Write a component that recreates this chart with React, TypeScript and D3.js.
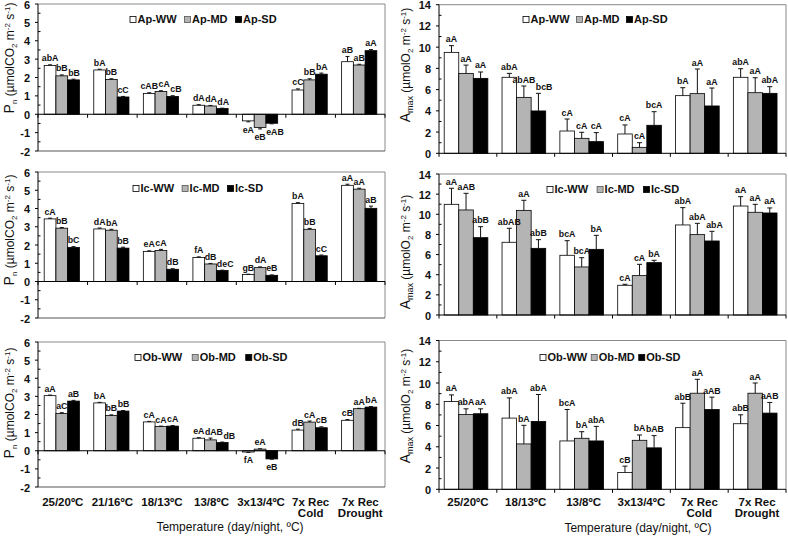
import React from 'react';
import * as d3 from 'd3';

const FONT = '"Liberation Sans", Arial, Helvetica, sans-serif';

// ---------- categories ----------
const pnCategories = ['25/20ºC', '21/16ºC', '18/13ºC', '13/8ºC', '3x13/4ºC', '7x Rec|Cold', '7x Rec|Drought'];
const amaxCategories = ['25/20ºC', '18/13ºC', '13/8ºC', '3x13/4ºC', '7x Rec|Cold', '7x Rec|Drought'];
const treatments = ['WW', 'MD', 'SD'];
const pnTicks = [-2, -1, 0, 1, 2, 3, 4, 5, 6];
const amaxTicks = [0, 2, 4, 6, 8, 10, 12, 14];

// ---------- Ap : Pn ----------
const apPnWW = [2.65, 2.41, 1.13, 0.49, -0.36, 1.32, 2.86];
const apPnMD = [2.09, 1.89, 1.24, 0.45, -0.72, 1.87, 2.68];
const apPnSD = [1.87, 0.94, 0.97, 0.31, -0.49, 2.18, 3.46];
const apPnErrWW = [0.04, 0.04, 0.04, 0.03, 0.05, 0.06, 0.28];
const apPnErrMD = [0.05, 0.04, 0.04, 0.03, 0.08, 0.06, 0.04];
const apPnErrSD = [0.04, 0.03, 0.04, 0.02, 0.03, 0.06, 0.06];
const apPnLabWW = ['abA', 'bA', 'cAB', 'dA', 'eA', 'cC', 'aB'];
const apPnLabMD = ['bB', 'bB', 'cA', 'dA', 'eB', 'bB', 'aB'];
const apPnLabSD = ['bB', 'cC', 'cB', 'dA', 'eAB', 'bA', 'aA'];

// ---------- Ap : Amax ----------
const apAmWW = [9.51, 7.16, 2.10, 1.82, 5.43, 7.16];
const apAmMD = [7.53, 5.27, 1.41, 0.56, 5.62, 5.71];
const apAmSD = [7.06, 3.99, 1.10, 2.64, 4.46, 5.65];
const apAmErrWW = [0.63, 0.37, 1.13, 0.85, 0.75, 0.81];
const apAmErrMD = [0.78, 1.07, 0.57, 0.44, 2.32, 1.41];
const apAmErrSD = [0.60, 1.66, 0.85, 1.28, 1.69, 0.63];
const apAmLabWW = ['aA', 'abA', 'cA', 'cA', 'bA', 'abA'];
const apAmLabMD = ['aA', 'abAB', 'cA', 'cA', 'aA', 'aA'];
const apAmLabSD = ['aA', 'bcB', 'cA', 'bcA', 'aA', 'abA'];

// ---------- Ic : Pn ----------
const icPnWW = [3.43, 2.88, 1.65, 1.31, 0.38, 4.28, 5.27];
const icPnMD = [2.92, 2.81, 1.70, 0.96, 0.76, 2.86, 5.06];
const icPnSD = [1.87, 1.83, 0.67, 0.60, 0.34, 1.41, 4.01];
const icPnErrWW = [0.04, 0.05, 0.03, 0.04, 0.02, 0.04, 0.06];
const icPnErrMD = [0.04, 0.05, 0.06, 0.03, 0.04, 0.05, 0.05];
const icPnErrSD = [0.04, 0.05, 0.03, 0.02, 0.02, 0.04, 0.12];
const icPnLabWW = ['cA', 'dA', 'eA', 'fA', 'gB', 'bA', 'aA'];
const icPnLabMD = ['bB', 'bA', 'cA', 'dB', 'dA', 'bB', 'aA'];
const icPnLabSD = ['bC', 'bB', 'dB', 'deC', 'eB', 'cC', 'aB'];

// ---------- Ic : Amax ----------
const icAmWW = [10.99, 7.22, 5.93, 2.95, 8.94, 10.82];
const icAmMD = [10.43, 10.39, 4.77, 3.91, 7.98, 10.20];
const icAmSD = [7.68, 6.62, 6.52, 5.20, 7.35, 10.13];
const icAmErrWW = [1.59, 1.39, 1.45, 0.10, 1.72, 0.93];
const icAmErrMD = [1.65, 1.00, 0.92, 1.12, 1.12, 0.79];
const icAmErrSD = [1.09, 0.86, 1.39, 0.23, 0.96, 0.50];
const icAmLabWW = ['aA', 'abAB', 'bcA', 'cA', 'abA', 'aA'];
const icAmLabMD = ['aAB', 'aA', 'bcA', 'cA', 'abA', 'aA'];
const icAmLabSD = ['abB', 'abB', 'bA', 'bA', 'abA', 'aA'];

// ---------- Ob : Pn ----------
const obPnWW = [3.04, 2.64, 1.59, 0.69, -0.07, 1.14, 1.68];
const obPnMD = [2.05, 1.94, 1.34, 0.60, 0.09, 1.58, 2.32];
const obPnSD = [2.74, 2.19, 1.36, 0.45, -0.45, 1.27, 2.41];
const obPnErrWW = [0.03, 0.03, 0.03, 0.03, 0.02, 0.05, 0.04];
const obPnErrMD = [0.05, 0.04, 0.02, 0.10, 0.02, 0.06, 0.02];
const obPnErrSD = [0.04, 0.03, 0.03, 0.03, 0.02, 0.05, 0.03];
const obPnLabWW = ['aA', 'bA', 'cA', 'eA', 'fA', 'dB', 'cB'];
const obPnLabMD = ['aC', 'bB', 'cA', 'dAB', 'eA', 'cA', 'aA'];
const obPnLabSD = ['aB', 'bB', 'cA', 'dB', 'eB', 'cB', 'bA'];

// ---------- Ob : Amax ----------
const obAmWW = [8.26, 6.70, 4.55, 1.59, 5.80, 6.17];
const obAmMD = [7.04, 4.27, 4.80, 4.61, 9.04, 9.04];
const obAmSD = [7.11, 6.39, 4.55, 3.90, 7.51, 7.17];
const obAmErrWW = [0.62, 1.90, 2.96, 0.59, 2.30, 0.84];
const obAmErrMD = [0.53, 1.75, 0.62, 0.50, 1.31, 0.96];
const obAmErrSD = [0.46, 2.53, 1.37, 1.15, 1.16, 1.00];
const obAmLabWW = ['aA', 'abA', 'bcA', 'cB', 'abB', 'abB'];
const obAmLabMD = ['abA', 'bA', 'bA', 'bA', 'aA', 'aA'];
const obAmLabSD = ['aA', 'abA', 'abA', 'bAB', 'aAB', 'aAB'];

const FILLS = ['#ffffff', '#b4b4b4', '#000000'];
const LAB_SIZE = 8.8;

let ctx: CanvasRenderingContext2D | null = null;
function measure(s: string, size: number, weight: string) {
  if (!ctx) ctx = document.createElement('canvas').getContext('2d');
  if (!ctx) return s.length * size * 0.6;
  ctx.font = `${weight} ${size}px ${FONT}`;
  return ctx.measureText(s).width;
}

type PanelProps = {
  kind: 'pn' | 'am';
  x0: number; x1: number; yTop: number; yBot: number;
  categories: string[];
  values: number[][]; errs: number[][]; labels: string[][];
  species: string;
  legendX: number; legendY: number; legendGap: number;
  titleY: number;
  showX: boolean;
  groupFrac: [number, number];
};

function Panel(p: PanelProps) {
  const isPn = p.kind === 'pn';
  const domain = isPn ? [-2, 6] : [0, 14];
  const ticks = isPn ? pnTicks : amaxTicks;
  const minorStep = isPn ? 0.5 : 1;
  const x = d3.scaleBand<string>().domain(p.categories).range([p.x0, p.x1]).padding(0);
  const bw = x.bandwidth();
  const inner = d3.scaleBand<string>().domain(treatments).range([bw * p.groupFrac[0], bw * p.groupFrac[1]]).padding(0);
  const y = d3.scaleLinear().domain(domain).range([p.yBot, p.yTop]);
  const minor = d3.range(domain[0], domain[1] + 0.001, minorStep).filter((v) => !ticks.includes(v));
  const y0 = y(0);
  const capW = isPn ? 4 : 5;

  const bars: React.ReactNode[] = [];
  const errs: React.ReactNode[] = [];
  const labs: React.ReactNode[] = [];

  p.categories.forEach((cat, ci) => {
    let prev: { left: number; right: number; y: number } | null = null;
    p.values.forEach((ser, si) => {
      const v = ser[ci];
      const bx = (x(cat) as number) + (inner(treatments[si]) as number);
      const w = inner.bandwidth();
      const top = Math.min(y(v), y0);
      const h = Math.abs(y(v) - y0);
      bars.push(
        <rect key={`b${si}-${ci}`} x={bx} y={top} width={w} height={h}
          fill={FILLS[si]} stroke="#000" strokeWidth={0.8} />
      );
      const e = p.errs[si][ci];
      const cx = bx + w / 2;
      const end = v >= 0 ? y(v + e) : y(v - e);
      errs.push(
        <g key={`e${si}-${ci}`} stroke="#111" strokeWidth={1}>
          <line x1={cx} x2={cx} y1={y(v)} y2={end} />
          <line x1={cx - capW / 2} x2={cx + capW / 2} y1={end} y2={end} />
        </g>
      );
      const ly = v >= 0 ? end - 3.5 : end + 11;
      const tw = measure(p.labels[si][ci], LAB_SIZE, 'bold');
      let left = cx - tw / 2;
      if (prev && Math.abs(prev.y - ly) < 8 && left < prev.right + 0.5) {
        left = prev.right + 0.5;
      }
      prev = { left, right: left + tw, y: ly };
      labs.push(
        <text key={`l${si}-${ci}`} x={left} y={ly} textAnchor="start" fontSize={LAB_SIZE} fontWeight="bold"
          fontFamily={FONT} fill="#111">{p.labels[si][ci]}</text>
      );
    });
  });

  // legend
  const legendItems: React.ReactNode[] = [];
  let lx = p.legendX;
  treatments.forEach((t, i) => {
    const name = `${p.species}-${t}`;
    legendItems.push(
      <g key={`lg${i}`}>
        <rect x={lx} y={p.legendY - 6.5} width={6} height={6} fill={FILLS[i]}
          stroke={i === 1 ? '#555' : '#000'} strokeWidth={0.8} />
        <text x={lx + 7.5} y={p.legendY} fontSize={11} fontWeight="bold" fontFamily={FONT} fill="#111">{name}</text>
      </g>
    );
    lx += 7.5 + measure(name, 11, 'bold') + p.legendGap;
  });

  const boundaries = d3.range(p.categories.length + 1).map((i) => p.x0 + i * bw);
  const tcx = isPn ? 14 : 410;
  const tcy = p.titleY;

  return (
    <g>
      {/* frame */}
      <line x1={p.x0} x2={p.x1} y1={p.yTop} y2={p.yTop} stroke="#8a8a8a" strokeWidth={1} />
      <line x1={p.x1} x2={p.x1} y1={p.yTop} y2={p.yBot} stroke="#8a8a8a" strokeWidth={1} />
      {isPn && <line x1={p.x0} x2={p.x1} y1={p.yBot} y2={p.yBot} stroke="#555" strokeWidth={1} />}
      {bars}
      {errs}
      {/* y axis */}
      <line x1={p.x0} x2={p.x0} y1={p.yTop} y2={p.yBot} stroke="#000" strokeWidth={1} />
      {ticks.map((t) => (
        <g key={`yt${t}`}>
          <line x1={p.x0 - 3} x2={p.x0} y1={y(t)} y2={y(t)} stroke="#000" strokeWidth={1} />
          <text x={p.x0 - 8} y={y(t) + 4.5} textAnchor="end" fontSize={11} fontWeight="bold"
            fontFamily={FONT} fill="#111">{t}</text>
        </g>
      ))}
      {minor.map((t) => (
        <line key={`ym${t}`} x1={p.x0} x2={p.x0 + 2.5} y1={y(t)} y2={y(t)} stroke="#000" strokeWidth={1} />
      ))}
      {/* x axis at zero */}
      <line x1={p.x0} x2={p.x1} y1={y0} y2={y0} stroke="#000" strokeWidth={1} />
      {boundaries.map((bx, i) => (
        <line key={`xt${i}`} x1={bx} x2={bx} y1={y0} y2={y0 + 3.5} stroke="#000" strokeWidth={1} />
      ))}
      {labs}
      {legendItems}
      {/* y title */}
      <text transform={`translate(${tcx},${tcy}) rotate(-90)`} textAnchor="middle" fontFamily={FONT}
        fontSize={12} fill="#111">
        {isPn ? (
          <>
            <tspan fontSize={14}>P</tspan>
            <tspan fontSize={8} dy={3}>n</tspan>
            <tspan dy={-3}> (µmolCO</tspan>
            <tspan fontSize={8} dy={3}>2</tspan>
            <tspan dy={-3}> m</tspan>
            <tspan fontSize={8} dy={-4}>-2</tspan>
            <tspan dy={4}> s</tspan>
            <tspan fontSize={8} dy={-4}>-1</tspan>
            <tspan dy={4}>)</tspan>
          </>
        ) : (
          <>
            <tspan fontSize={14}>A</tspan>
            <tspan fontSize={9} dy={3}>max</tspan>
            <tspan dy={-3}> (µmolO</tspan>
            <tspan fontSize={8} dy={3}>2</tspan>
            <tspan dy={-3}> m</tspan>
            <tspan fontSize={8} dy={-4}>-2</tspan>
            <tspan dy={4}> s</tspan>
            <tspan fontSize={8} dy={-4}>-1</tspan>
            <tspan dy={4}>)</tspan>
          </>
        )}
      </text>
      {p.showX &&
        p.categories.map((c) => {
          const cx = (x(c) as number) + bw / 2;
          const parts = c.split('|');
          return (
            <text key={`xl${c}`} textAnchor="middle" fontSize={11.5} fontWeight="bold" fontFamily={FONT} fill="#111">
              {parts.map((s, i) => (
                <tspan key={i} x={cx} y={506 + i * 11}>{s}</tspan>
              ))}
            </text>
          );
        })}
    </g>
  );
}

export default function App() {
  const L = { x0: 38, x1: 385, groupFrac: [0.125, 0.835] as [number, number] };
  const R = { x0: 439, x1: 786, groupFrac: [0.09, 0.845] as [number, number] };
  return (
    <svg width={788} height={537} viewBox="0 0 788 537"
      style={{ position: 'absolute', left: 0, top: 0, background: '#fff' }}>
      <rect x={0} y={0} width={788} height={537} fill="#fff" />
      <Panel kind="pn" {...L} yTop={4} yBot={151} categories={pnCategories}
        values={[apPnWW, apPnMD, apPnSD]} errs={[apPnErrWW, apPnErrMD, apPnErrSD]}
        labels={[apPnLabWW, apPnLabMD, apPnLabSD]} species="Ap"
        legendX={130} legendY={23} legendGap={8} titleY={58} showX={false} />
      <Panel kind="am" {...R} yTop={4.7} yBot={153.3} categories={amaxCategories}
        values={[apAmWW, apAmMD, apAmSD]} errs={[apAmErrWW, apAmErrMD, apAmErrSD]}
        labels={[apAmLabWW, apAmLabMD, apAmLabSD]} species="Ap"
        legendX={523} legendY={23} legendGap={7} titleY={65} showX={false} />
      <Panel kind="pn" {...L} yTop={172} yBot={318} categories={pnCategories}
        values={[icPnWW, icPnMD, icPnSD]} errs={[icPnErrWW, icPnErrMD, icPnErrSD]}
        labels={[icPnLabWW, icPnLabMD, icPnLabSD]} species="Ic"
        legendX={133} legendY={192} legendGap={8} titleY={230} showX={false} />
      <Panel kind="am" {...R} yTop={174} yBot={315} categories={amaxCategories}
        values={[icAmWW, icAmMD, icAmSD]} errs={[icAmErrWW, icAmErrMD, icAmErrSD]}
        labels={[icAmLabWW, icAmLabMD, icAmLabSD]} species="Ic"
        legendX={547} legendY={193} legendGap={9} titleY={252} showX={false} />
      <Panel kind="pn" {...L} yTop={342} yBot={487} categories={pnCategories}
        values={[obPnWW, obPnMD, obPnSD]} errs={[obPnErrWW, obPnErrMD, obPnErrSD]}
        labels={[obPnLabWW, obPnLabMD, obPnLabSD]} species="Ob"
        legendX={135} legendY={361} legendGap={10} titleY={403} showX={true} />
      <Panel kind="am" {...R} yTop={340.5} yBot={489.3} categories={amaxCategories}
        values={[obAmWW, obAmMD, obAmSD]} errs={[obAmErrWW, obAmErrMD, obAmErrSD]}
        labels={[obAmLabWW, obAmLabMD, obAmLabSD]} species="Ob"
        legendX={540} legendY={361} legendGap={4} titleY={406} showX={true} />
      <text x={230} y={531} textAnchor="middle" fontSize={12} fontFamily={FONT} fill="#111">Temperature (day/night, ºC)</text>
      <text x={638} y={532} textAnchor="middle" fontSize={12} fontFamily={FONT} fill="#111">Temperature (day/night, ºC)</text>
    </svg>
  );
}
